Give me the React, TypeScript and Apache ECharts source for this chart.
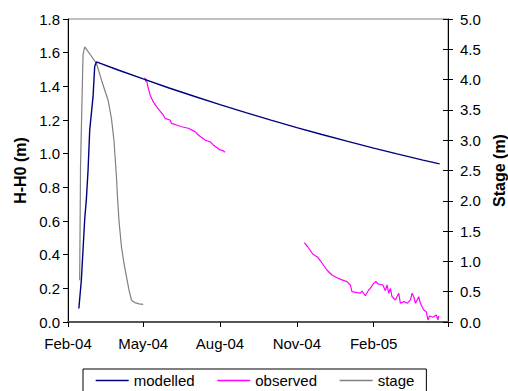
import React, { useEffect, useRef } from "react";
import * as echarts from "echarts";

const xTickDates = ["2004-02-01", "2004-05-01", "2004-08-01", "2004-11-01", "2005-02-01", "2005-05-01"];
const xTickLabels = ["Feb-04", "May-04", "Aug-04", "Nov-04", "Feb-05", ""];

const modelledDates = ["2004-02-14", "2004-02-17", "2004-02-21", "2004-02-23", "2004-02-25", "2004-02-27", "2004-03-02", "2004-03-04", "2004-03-06", "2004-04-01", "2004-05-01", "2004-06-01", "2004-07-01", "2004-08-01", "2004-09-01", "2004-10-01", "2004-11-01", "2004-12-01", "2005-01-01", "2005-02-01", "2005-03-01", "2005-04-01", "2005-04-21"];
const modelledValues = [0.08, 0.25, 0.61, 0.73, 0.9, 1.14, 1.34, 1.52, 1.545, 1.497, 1.444, 1.39, 1.341, 1.291, 1.244, 1.199, 1.155, 1.114, 1.073, 1.033, 0.999, 0.962, 0.939];

const observed1Dates = ["2004-05-03", "2004-05-04", "2004-05-05", "2004-05-07", "2004-05-10", "2004-05-13", "2004-05-17", "2004-05-20", "2004-05-25", "2004-05-27", "2004-06-02", "2004-06-04", "2004-06-10", "2004-06-16", "2004-06-24", "2004-07-02", "2004-07-06", "2004-07-14", "2004-07-20", "2004-07-24", "2004-08-01", "2004-08-04", "2004-08-07"];
const observed1Values = [1.452, 1.43, 1.44, 1.39, 1.339, 1.309, 1.279, 1.26, 1.23, 1.21, 1.2, 1.18, 1.17, 1.16, 1.151, 1.131, 1.111, 1.081, 1.071, 1.052, 1.022, 1.02, 1.008];

const observed2Dates = ["2004-11-10", "2004-11-14", "2004-11-20", "2004-11-26", "2004-11-30", "2004-12-07", "2004-12-13", "2004-12-19", "2004-12-25", "2004-12-31", "2005-01-04", "2005-01-06", "2005-01-12", "2005-01-16", "2005-01-18", "2005-01-22", "2005-01-26", "2005-01-28", "2005-02-01", "2005-02-04", "2005-02-06", "2005-02-12", "2005-02-15", "2005-02-17", "2005-02-19", "2005-02-21", "2005-02-23", "2005-02-27", "2005-03-03", "2005-03-05", "2005-03-09", "2005-03-13", "2005-03-17", "2005-03-19", "2005-03-21", "2005-03-23", "2005-03-27", "2005-03-29", "2005-03-31", "2005-04-02", "2005-04-05", "2005-04-07", "2005-04-09", "2005-04-13", "2005-04-17", "2005-04-19", "2005-04-20"];
const observed2Values = [0.471, 0.447, 0.404, 0.384, 0.358, 0.309, 0.279, 0.263, 0.25, 0.24, 0.22, 0.18, 0.174, 0.171, 0.184, 0.156, 0.19, 0.2, 0.23, 0.24, 0.226, 0.22, 0.186, 0.22, 0.171, 0.2, 0.15, 0.131, 0.171, 0.111, 0.121, 0.111, 0.131, 0.171, 0.15, 0.111, 0.15, 0.111, 0.091, 0.071, 0.061, 0.012, 0.036, 0.028, 0.042, 0.012, 0.036];

const stageDates = ["2004-02-15", "2004-02-16", "2004-02-19", "2004-02-21", "2004-03-06", "2004-03-14", "2004-03-20", "2004-03-24", "2004-03-27", "2004-03-30", "2004-03-31", "2004-04-02", "2004-04-05", "2004-04-08", "2004-04-11", "2004-04-14", "2004-04-17", "2004-04-21", "2004-04-26", "2004-05-01"];
const stageValues = [0.69, 2.56, 4.41, 4.54, 4.27, 3.91, 3.66, 3.36, 3.0, 2.4, 2.12, 1.68, 1.24, 0.97, 0.75, 0.53, 0.36, 0.32, 0.3, 0.29];

const FONT = "'Liberation Sans', Arial, sans-serif";

// days since the first tick date (Feb 1 2004)
function dayOf(s: string): number {
  const [y, m, d] = s.split("-").map(Number);
  const [y0, m0, d0] = xTickDates[0].split("-").map(Number);
  return Math.round((Date.UTC(y, m - 1, d) - Date.UTC(y0, m0 - 1, d0)) / 86400000);
}
function pairs(dates: string[], values: number[]) {
  return dates.map((d, i) => [dayOf(d), values[i]]);
}

export default function App() {
  const ref = useRef<HTMLDivElement>(null);
  useEffect(() => {
    if (!ref.current) return;
    const chart = echarts.init(ref.current, undefined, { renderer: "svg" });
    const tickDays = xTickDates.map(dayOf);
    const labelMap: Record<number, string> = {};
    tickDays.forEach((t, i) => (labelMap[t] = xTickLabels[i]));
    const tickLabel = { fontFamily: FONT, fontSize: 15, color: "#000" };
    const titleStyle = { fontFamily: FONT, fontSize: 16, fontWeight: "bold", color: "#000" };
    chart.setOption({
      animation: false,
      backgroundColor: "#fff",
      grid: {
        left: 68,
        right: 60,
        top: 19,
        bottom: 69,
        containLabel: false,
        outerBoundsMode: "none",
        show: true,
        borderColor: "#808080",
        borderWidth: 1,
      },
      legend: {
        left: 83,
        top: 369,
        orient: "horizontal",
        data: ["modelled", "observed", "stage"],
        itemWidth: 33,
        itemHeight: 14,
        itemGap: 22,
        padding: [4, 12, 6, 12],
        borderColor: "#000",
        borderWidth: 1,
        itemStyle: { opacity: 0 },
        lineStyle: { width: 1.4 },
        textStyle: { fontFamily: FONT, fontSize: 15, color: "#000" },
      },
      xAxis: {
        type: "value",
        min: tickDays[0],
        max: tickDays[tickDays.length - 1],
        axisLine: { show: true, lineStyle: { color: "#555", width: 2 } },
        axisTick: { show: true, length: 5, lineStyle: { color: "#000" }, customValues: tickDays },
        axisLabel: {
          ...tickLabel,
          margin: 14,
          customValues: tickDays.slice(0, 5),
          formatter: (v: number) => labelMap[v] ?? "",
        },
        splitLine: { show: false },
      },
      yAxis: [
        {
          type: "value",
          position: "left",
          min: 0,
          max: 1.8,
          interval: 0.2,
          name: "H-H0 (m)",
          nameLocation: "middle",
          nameGap: 35,
          nameTextStyle: titleStyle,
          axisLine: { show: true, lineStyle: { color: "#000", width: 1 } },
          axisTick: { show: true, length: 5, lineStyle: { color: "#000" } },
          axisLabel: { ...tickLabel, margin: 8, formatter: (v: number) => v.toFixed(1) },
          splitLine: { show: false },
        },
        {
          type: "value",
          position: "right",
          min: 0,
          max: 5,
          interval: 0.5,
          name: "Stage (m)",
          nameLocation: "middle",
          nameGap: 41,
          nameTextStyle: titleStyle,
          axisLine: { show: true, lineStyle: { color: "#000", width: 1 } },
          axisTick: { show: true, length: 5, lineStyle: { color: "#000" } },
          axisLabel: { ...tickLabel, margin: 12, formatter: (v: number) => v.toFixed(1) },
          splitLine: { show: false },
        },
        {
          type: "value",
          position: "right",
          min: 0,
          max: 5,
          interval: 0.5,
          axisLine: { show: false },
          axisTick: { show: true, inside: true, length: 5, lineStyle: { color: "#000" } },
          axisLabel: { show: false },
          splitLine: { show: false },
        },
      ],
      series: [
        {
          name: "stage",
          type: "line",
          yAxisIndex: 1,
          symbol: "none",
          data: pairs(stageDates, stageValues),
          lineStyle: { color: "#808080", width: 1.2 },
          itemStyle: { color: "#808080" },
        },
        {
          name: "observed",
          type: "line",
          yAxisIndex: 0,
          symbol: "none",
          data: pairs(observed1Dates, observed1Values),
          lineStyle: { color: "#FF00FF", width: 1.2 },
          itemStyle: { color: "#FF00FF" },
        },
        {
          name: "observed",
          type: "line",
          yAxisIndex: 0,
          symbol: "none",
          data: pairs(observed2Dates, observed2Values),
          lineStyle: { color: "#FF00FF", width: 1.2 },
          itemStyle: { color: "#FF00FF" },
        },
        {
          name: "modelled",
          type: "line",
          yAxisIndex: 0,
          symbol: "none",
          data: pairs(modelledDates, modelledValues),
          lineStyle: { color: "#000080", width: 1.4 },
          itemStyle: { color: "#000080" },
        },
      ],
    });
    return () => chart.dispose();
  }, []);
  return <div ref={ref} style={{ position: "fixed", left: 0, top: 0, width: 508, height: 391 }} />;
}
